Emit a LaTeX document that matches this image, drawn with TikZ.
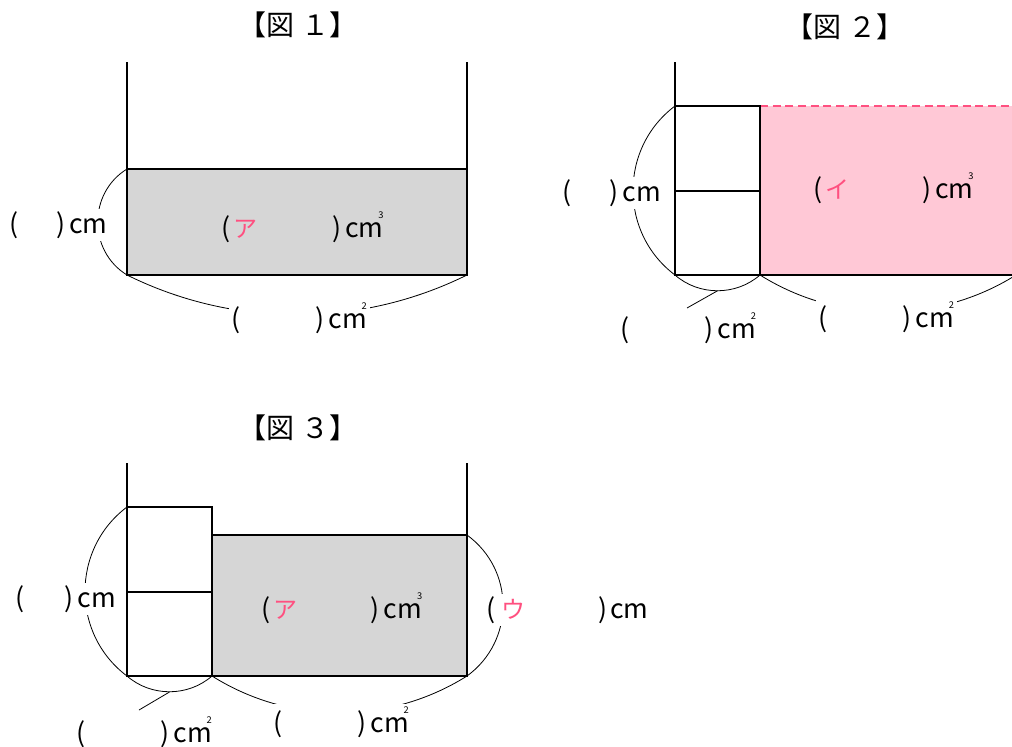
\documentclass[tikz,border=0pt]{standalone}
\usepackage{fontspec}
\newfontfamily\jp{Noto Sans CJK JP}
\definecolor{water}{HTML}{D6D6D6}
\definecolor{pinkfill}{HTML}{FFC8D6}
\definecolor{pinkline}{HTML}{FF5080}
\newcommand\cmSq{cm\llap{\raisebox{0.7em}{\fontsize{7}{7}\selectfont 2}}}
\newcommand\cmCu{cm\llap{\raisebox{0.7em}{\fontsize{7}{7}\selectfont 3}}}
\newcommand\kana[1]{{\fontsize{18}{18}\selectfont\textcolor{pinkline}{#1}}}
\tikzset{
  bold line/.style={line width=1.9pt, line join=miter},
  brace/.style={line width=0.6pt},
  lab/.style={font=\jp\fontsize{20}{20}\selectfont, fill=white, inner sep=2pt, anchor=west},
  inlab/.style={font=\jp\fontsize{20}{20}\selectfont, inner sep=2pt, anchor=west},
  ttl/.style={font=\jp\fontsize{21}{21}\selectfont, inner sep=1pt},
  dashpink/.style={pinkline, line width=1.5pt, dash pattern=on 6pt off 3.5pt},
}
\begin{document}
\begin{tikzpicture}[x=0.75pt, y=-0.75pt]
\useasboundingbox (0,0) rectangle (1012,746);
\clip (0,0) rectangle (1012,746);

% ---------------- Figure 1 ----------------
\node[ttl] (t1) at (298,25) {【図 １】};
\coordinate (f1wl) at (127,62);
\coordinate (f1wr) at (467,62);
\coordinate (f1tl) at (127,169);
\coordinate (f1tr) at (467,169);
\coordinate (f1bl) at (127,275);
\coordinate (f1br) at (467,275);
\fill[water] (f1tl) rectangle (f1br);
\draw[brace] (f1tl) .. controls (88,193) and (88,251) .. (f1bl);
\draw[brace] (f1bl) .. controls (234,328) and (360,328) .. (f1br);
\draw[bold line] (f1wl) -- (f1bl) -- (f1br) -- (f1wr);
\draw[bold line] (f1tl) -- (f1tr);
\node[lab] (f1h) at (7,225) {(\hspace*{28pt})\kern3pt cm};
\node[inlab] (f1v) at (219,227) {(\kern2pt\kana{ア}\hspace*{56pt})\kern3pt\cmCu};
\node[lab] (f1a) at (229,318) {(\hspace*{56pt})\kern3pt\cmSq};

% ---------------- Figure 2 ----------------
\node[ttl] (t2) at (845,27) {【図 ２】};
\coordinate (f2wl) at (675,62);
\coordinate (f2tl) at (675,106);
\coordinate (f2ml) at (675,191);
\coordinate (f2bl) at (675,275);
\coordinate (f2tm) at (760,106);
\coordinate (f2mm) at (760,191);
\coordinate (f2bm) at (760,275);
\coordinate (f2tr) at (1016,106);
\coordinate (f2br) at (1016,275);
\coordinate (f2sb) at (717.5,290.8);
\coordinate (f2tk) at (687,308);
\fill[pinkfill] (f2tm) rectangle (f2br);
\draw[dashpink] (f2tm) -- (f2tr);
\draw[brace] (f2tl) .. controls (619,148) and (619,233) .. (f2bl);
\draw[brace] (f2bl) .. controls (699,296) and (736,296) .. (f2bm);
\draw[brace] (f2sb) -- (f2tk);
\draw[brace] (f2bm) .. controls (838,324) and (938,324) .. (f2br);
\draw[bold line] (f2wl) -- (f2bl) -- (f2br);
\draw[bold line] (f2tl) -- (f2tm) -- (f2bm);
\draw[bold line] (f2ml) -- (f2mm);
\node[lab] (f2h) at (560,193) {(\hspace*{28.5pt})\kern3pt cm};
\node[inlab] (f2v) at (811,188) {(\kern2pt\kana{イ}\hspace*{54.5pt})\kern3pt\cmCu};
\node[lab] (f2s) at (618,328) {(\hspace*{56pt})\kern3pt\cmSq};
\node[lab] (f2a) at (816,317) {(\hspace*{56pt})\kern3pt\cmSq};

% ---------------- Figure 3 ----------------
\node[ttl] (t3) at (298,428) {【図 ３】};
\coordinate (f3wl) at (127,463);
\coordinate (f3wr) at (467,463);
\coordinate (f3tl) at (127,507);
\coordinate (f3ml) at (127,592);
\coordinate (f3bl) at (127,676);
\coordinate (f3tm) at (212,507);
\coordinate (f3mm) at (212,592);
\coordinate (f3wm) at (212,535);
\coordinate (f3bm) at (212,676);
\coordinate (f3tr) at (467,535);
\coordinate (f3br) at (467,676);
\coordinate (f3sb) at (169.5,692);
\coordinate (f3tk) at (139,710);
\fill[water] (f3wm) rectangle (f3br);
\draw[brace] (f3tl) .. controls (71,549) and (71,634) .. (f3bl);
\draw[brace] (f3tr) .. controls (515,570) and (515,641) .. (f3br);
\draw[brace] (f3bl) .. controls (151,697) and (188,697) .. (f3bm);
\draw[brace] (f3sb) -- (f3tk);
\draw[brace] (f3bm) .. controls (290,725) and (389,725) .. (f3br);
\draw[bold line] (f3wl) -- (f3bl) -- (f3br) -- (f3wr);
\draw[bold line] (f3tl) -- (f3tm) -- (f3bm);
\draw[bold line] (f3ml) -- (f3mm);
\draw[bold line] (f3wm) -- (f3tr);
\node[lab] (f3h) at (13,599) {(\hspace*{30pt})\kern3pt cm};
\node[inlab] (f3v) at (259,608) {(\kern2pt\kana{ア}\hspace*{55pt})\kern3pt\cmCu};
\node[lab] (f3u) at (484,610) {(\kern4pt\kana{ウ}\hspace*{55pt})\kern2pt cm};
\node[lab] (f3s) at (74,732) {(\hspace*{56pt})\kern3pt\cmSq};
\node[lab] (f3a) at (271,722) {(\hspace*{56pt})\kern3pt\cmSq};
\end{tikzpicture}
\end{document}
